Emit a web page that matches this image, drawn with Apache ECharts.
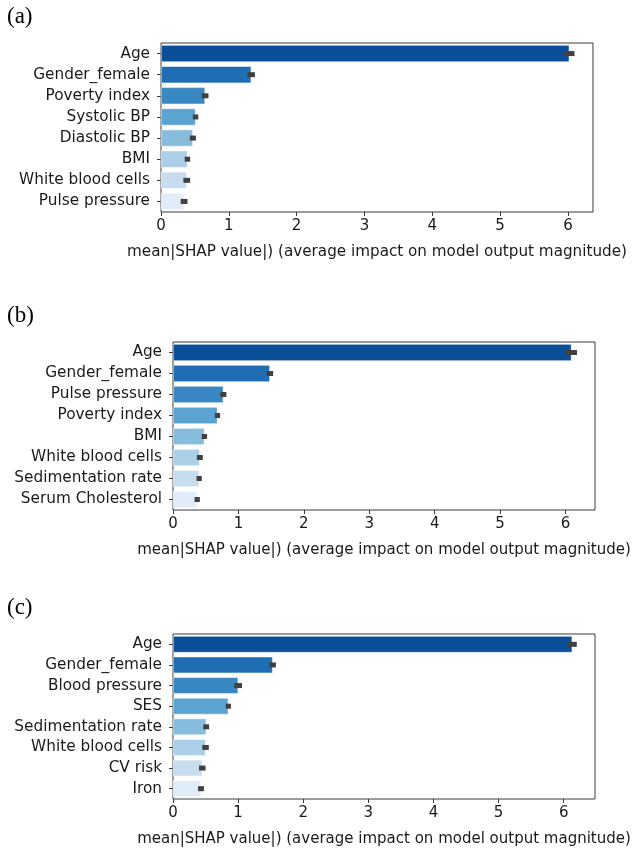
<!DOCTYPE html>
<html>
<head>
<meta charset="utf-8">
<script src="https://cdn.jsdelivr.net/npm/echarts@6/dist/echarts.min.js"></script>
<style>
  html, body { margin: 0; padding: 0; background: #fff; }
  #chart { width: 634px; height: 848px; }
</style>
</head>
<body>
<div id="chart"></div>
<script>
// feature names per panel (top to bottom)
const featuresA = ['Age', 'Gender_female', 'Poverty index', 'Systolic BP', 'Diastolic BP', 'BMI', 'White blood cells', 'Pulse pressure'];
const featuresB = ['Age', 'Gender_female', 'Pulse pressure', 'Poverty index', 'BMI', 'White blood cells', 'Sedimentation rate', 'Serum Cholesterol'];
const featuresC = ['Age', 'Gender_female', 'Blood pressure', 'SES', 'Sedimentation rate', 'White blood cells', 'CV risk', 'Iron'];

// mean |SHAP| values
const valuesA = [6.02, 1.33, 0.65, 0.51, 0.47, 0.39, 0.38, 0.34];
const valuesB = [6.09, 1.48, 0.77, 0.68, 0.48, 0.41, 0.40, 0.37];
const valuesC = [6.13, 1.53, 1.00, 0.85, 0.51, 0.50, 0.45, 0.43];

// error bar half widths
const errA = [0.077, 0.055, 0.05, 0.04, 0.045, 0.04, 0.05, 0.05];
const errB = [0.085, 0.05, 0.046, 0.04, 0.04, 0.045, 0.04, 0.04];
const errC = [0.07, 0.05, 0.06, 0.04, 0.045, 0.05, 0.05, 0.045];

const xTicks = [0, 1, 2, 3, 4, 5, 6];
const xName = 'mean|SHAP value|) (average impact on model output magnitude)';
const panelLabels = ['(a)', '(b)', '(c)'];

const barColors = ['#0a4f97', '#1f6eb4', '#3a88c3', '#5ba3d0', '#86bddd', '#aacfe6', '#c8dcf0', '#e0ecf8'];

const panels = [
  {feat: featuresA, vals: valuesA, err: errA, max: 6.37, grid: {left: 161, top: 43, width: 432, height: 169}, labelTop: 0, nameSize: 15.2},
  {feat: featuresB, vals: valuesB, err: errB, max: 6.45, grid: {left: 173, top: 342, width: 422, height: 168}, labelTop: 299, nameSize: 15},
  {feat: featuresC, vals: valuesC, err: errC, max: 6.48, grid: {left: 173, top: 634, width: 422, height: 165}, labelTop: 591, nameSize: 15}
];

const txt = '#1a1a1a';
const font = 'DejaVu Sans';

const chart = echarts.init(document.getElementById('chart'));
const grid = [], xAxis = [], yAxis = [], series = [], title = [];

panels.forEach((p, i) => {
  grid.push(Object.assign({
    show: true, borderColor: '#3a3a3a', borderWidth: 1, backgroundColor: '#fff',
    containLabel: false, outerBoundsMode: 'none'
  }, p.grid));
  xAxis.push({
    type: 'value', gridIndex: i, min: 0, max: p.max, interval: 1,
    splitLine: {show: false},
    axisLine: {show: false},
    axisTick: {show: true, length: 4, lineStyle: {color: '#3a3a3a'}},
    axisLabel: {
      color: txt, fontFamily: font, fontSize: 15, margin: 7, showMaxLabel: false,
      formatter: v => xTicks.includes(v) ? String(v) : ''
    },
    name: xName, nameLocation: 'middle', nameGap: 33,
    nameTextStyle: {color: txt, fontFamily: font, fontSize: p.nameSize}
  });
  yAxis.push({
    type: 'category', gridIndex: i, data: p.feat, inverse: true,
    axisLine: {show: false},
    axisTick: {show: true, length: 4, alignWithLabel: true, lineStyle: {color: '#3a3a3a'}},
    axisLabel: {color: txt, fontFamily: font, fontSize: 15.3, margin: 11}
  });
  series.push({
    type: 'bar', xAxisIndex: i, yAxisIndex: i,
    data: p.vals, barCategoryGap: '20%',
    itemStyle: {color: params => barColors[params.dataIndex], borderColor: '#fff', borderWidth: 0.5},
    silent: true
  });
  series.push({
    type: 'custom', xAxisIndex: i, yAxisIndex: i,
    data: p.vals.map((v, k) => [v, k, p.err[k]]),
    renderItem: (params, api) => {
      const v = api.value(0), k = api.value(1), e = api.value(2);
      const a = api.coord([v - e, k]);
      const b = api.coord([v + e, k]);
      return {
        type: 'rect',
        shape: {x: a[0], y: a[1] - 2.5, width: b[0] - a[0], height: 5},
        style: {fill: '#404040'}
      };
    },
    z: 5, silent: true
  });
  title.push({
    text: panelLabels[i], left: 2, top: p.labelTop,
    textStyle: {fontFamily: 'Liberation Serif', fontSize: 23, fontWeight: 'normal', color: '#000'}
  });
});

chart.setOption({
  animation: false,
  backgroundColor: '#fff',
  title: title,
  grid: grid,
  xAxis: xAxis,
  yAxis: yAxis,
  series: series
});
</script>
</body>
</html>
